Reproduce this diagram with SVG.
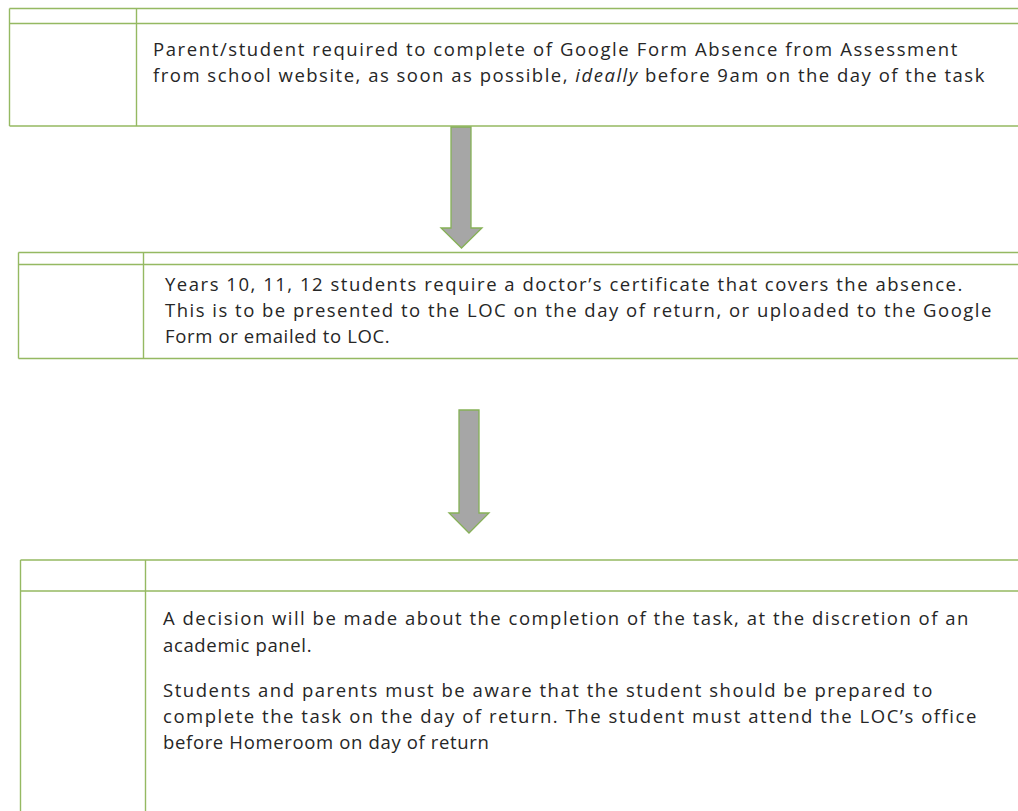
<svg xmlns="http://www.w3.org/2000/svg" width="1018" height="811" viewBox="0 0 1018 811">
<style>
.bg{fill:#ffffff}
.tl{stroke:#95b962;stroke-width:1.4;fill:none}
.tx{font-family:"Open Sans","Liberation Sans",sans-serif;font-size:18.5px;letter-spacing:0.65px;fill:#262626}
.arrow{fill:#a6a6a6;stroke:#86b157;stroke-width:1.3;stroke-linejoin:miter}
</style>
<rect class="bg" x="0" y="0" width="1018" height="811"/>
<g id="node1">
<path class="tl" d="M9.5,8.5 H1020 M9.5,23.5 H1020 M9.5,126 H1020 M9.5,8.5 V126 M136.5,8.5 V126"/>
<text class="tx" x="153" y="56" textLength="805" lengthAdjust="spacing">Parent/student required to complete of Google Form Absence from Assessment</text>
<text class="tx" x="153" y="82" textLength="832" lengthAdjust="spacing">from school website, as soon as possible, <tspan font-style="italic">ideally</tspan> before 9am on the day of the task</text>
</g>
<g id="node2">
<path class="tl" d="M18.5,252.5 H1020 M18.5,264.5 H1020 M18.5,358.5 H1020 M18.5,252.5 V358.5 M143.5,252.5 V358.5"/>
<text class="tx" x="165" y="290.5" textLength="798" lengthAdjust="spacing">Years 10, 11, 12 students require a doctor’s certificate that covers the absence.</text>
<text class="tx" x="165" y="317" textLength="827" lengthAdjust="spacing">This is to be presented to the LOC on the day of return, or uploaded to the Google</text>
<text class="tx" x="165" y="343">Form or emailed to LOC.</text>
</g>
<g id="node3">
<path class="tl" d="M20.5,560 H1020 M20.5,591 H1020 M20.5,560 V815 M145.5,560 V815"/>
<text class="tx" x="163" y="625" textLength="806" lengthAdjust="spacing">A decision will be made about the completion of the task, at the discretion of an</text>
<text class="tx" x="163" y="652">academic panel.</text>
<text class="tx" x="163" y="697" textLength="770" lengthAdjust="spacing">Students and parents must be aware that the student should be prepared to</text>
<text class="tx" x="163" y="723" textLength="814" lengthAdjust="spacing">complete the task on the day of return. The student must attend the LOC’s office</text>
<text class="tx" x="163" y="749">before Homeroom on day of return</text>
</g>
<g id="connectors">
<polygon class="arrow" points="451,127 471,127 471,228 482,228 461.5,248 441,228 451,228"/>
<polygon class="arrow" points="459,410 479,410 479,513 489,513 469,533 449,513 459,513"/>
</g>
</svg>
